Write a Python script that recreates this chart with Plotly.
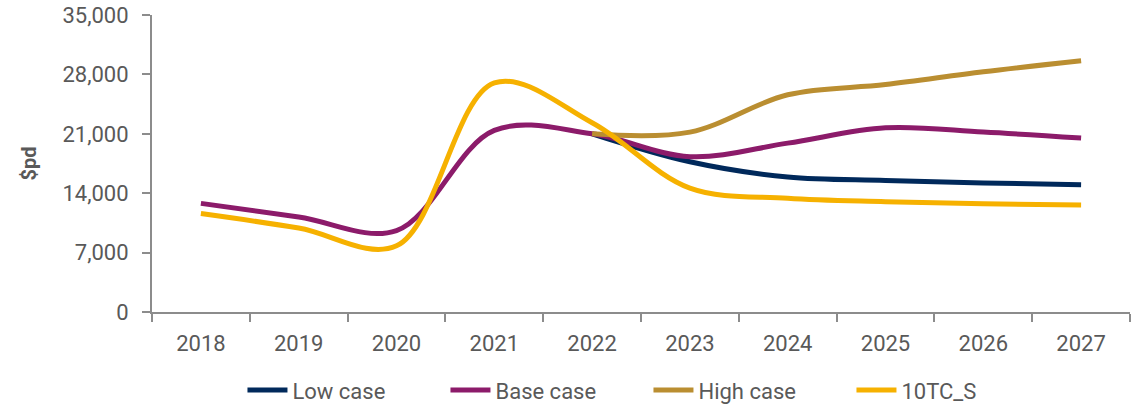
import plotly.graph_objects as go

# --- data ---
YEARS = ['2018', '2019', '2020', '2021', '2022', '2023', '2024', '2025', '2026', '2027']
FCST_YEARS = YEARS[4:]

LOW_CASE = [21000, 17700, 15900, 15500, 15200, 15000]
BASE_CASE = [12800, 11200, 9600, 21400, 21000, 18300, 19900, 21700, 21200, 20500]
HIGH_CASE = [21000, 21200, 25600, 26800, 28300, 29600]
TC_S = [11600, 9900, 7800, 27000, 22300, 14600, 13400, 13000, 12750, 12600]

# --- styles ---
NAVY = '#00295B'
PURPLE = '#8C1B6A'
GOLD = '#BA8E31'
YELLOW = '#F6B100'
TEXT = '#595959'
AXIS = '#8C8C8C'
FONT = "Roboto, sans-serif"

fig = go.Figure()

def add_line(x, y, name, color):
    fig.add_trace(go.Scatter(
        x=x, y=y, name=name, mode='lines',
        line=dict(color=color, width=5, shape='spline', smoothing=1.0),
    ))

add_line(FCST_YEARS, LOW_CASE, 'Low case', NAVY)
add_line(YEARS, BASE_CASE, 'Base case', PURPLE)
add_line(FCST_YEARS, HIGH_CASE, 'High case', GOLD)
add_line(YEARS, TC_S, '10TC_S', YELLOW)

fig.update_layout(
    width=1145, height=407,
    font=dict(family=FONT, size=22, color=TEXT),
    plot_bgcolor='white', paper_bgcolor='white',
    margin=dict(l=152, r=15, t=15, b=95, autoexpand=False),
    xaxis=dict(
        type='category', categoryorder='array', categoryarray=YEARS,
        range=[-0.5, 9.5],
        showline=True, linecolor=AXIS, linewidth=2,
        ticks='outside', tickson='boundaries', ticklen=8, tickcolor=AXIS, tickwidth=2,
        ticklabelstandoff=11,
        showgrid=False, zeroline=False,
        tickfont=dict(size=22, color=TEXT),
    ),
    yaxis=dict(
        range=[0, 35000], tickvals=[0, 7000, 14000, 21000, 28000, 35000],
        tickformat=',d',
        showline=True, linecolor=AXIS, linewidth=2,
        ticks='outside', ticklen=8, tickcolor=AXIS, tickwidth=2,
        ticklabelstandoff=9, ticklabeloverflow='allow',
        showgrid=False, zeroline=False,
        tickfont=dict(size=22, color=TEXT),
        title=dict(text='<b>$pd</b>', font=dict(size=20, color=TEXT), standoff=20),
    ),
    legend=dict(
        orientation='h', x=0.0925, xanchor='left', y=-0.263, yanchor='middle',
        font=dict(size=22, color=TEXT),
        entrywidth=148, entrywidthmode='pixels',
        itemwidth=40, tracegroupgap=0,
    ),
    showlegend=True,
)

# drop the default 8px body margin so the figure fills the window
fig.write_html("out.html", config={'displayModeBar': False},
               post_script="document.body.style.margin='0';")
